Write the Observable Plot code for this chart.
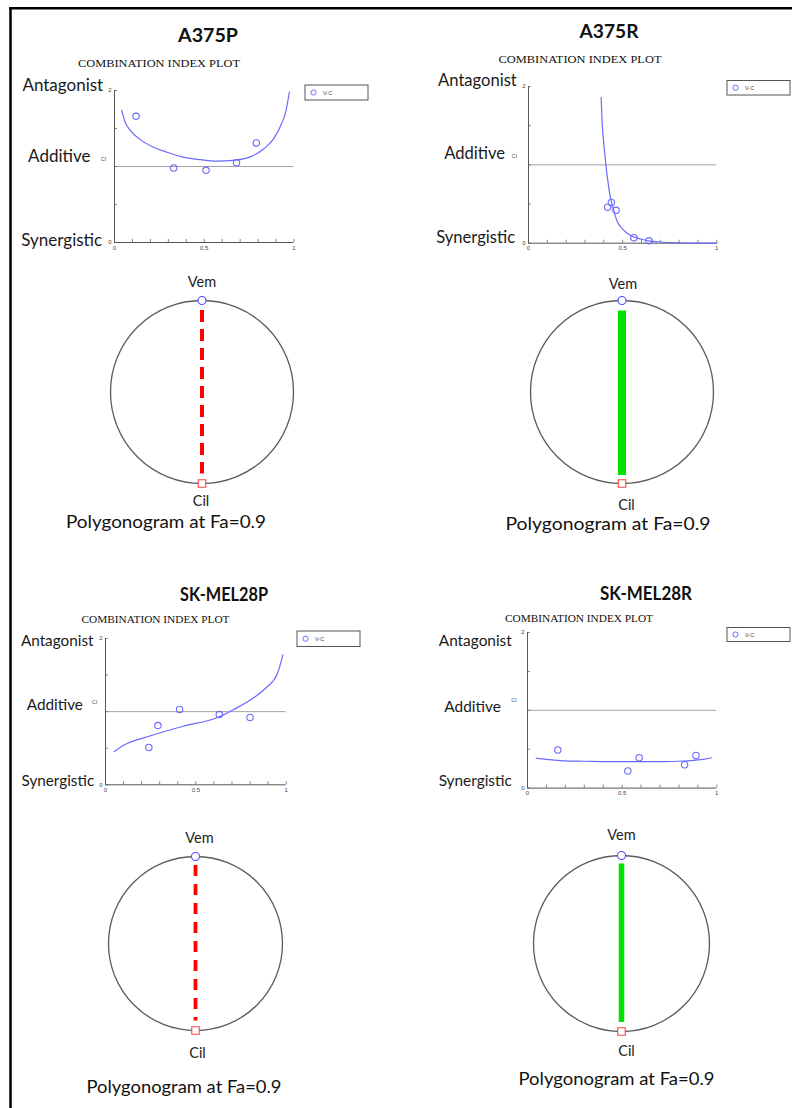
<!DOCTYPE html>
<html>
<head>
<meta charset="utf-8">
<script src="https://cdn.jsdelivr.net/npm/d3@7"></script>
<script src="https://cdn.jsdelivr.net/npm/@observablehq/plot@0.6"></script>
<style>
  html, body { margin: 0; padding: 0; background: #fff; }
  #page { position: relative; width: 792px; height: 1108px; overflow: hidden; background: #fff; }
  .panel { position: absolute; }
  #overlay { position: absolute; left: 0; top: 0; pointer-events: none; }
</style>
</head>
<body>
<div id="page"></div>
<script>
// ---------------- DATA ----------------
const cellLines = ["A375P", "A375R", "SK-MEL28P", "SK-MEL28R"];
const seriesName = "V-C";
const drugs = ["Vem", "Cil"];

// measured combination points (Fa, CI)
const faA375P = [0.12, 0.33, 0.51, 0.68, 0.79];
const ciA375P = [1.66, 0.98, 0.95, 1.05, 1.31];
const faA375R = [0.42, 0.44, 0.465, 0.56, 0.64];
const ciA375R = [0.46, 0.52, 0.42, 0.07, 0.03];
const faSKP = [0.24, 0.29, 0.41, 0.63, 0.80];
const ciSKP = [0.51, 0.81, 1.03, 0.96, 0.92];
const faSKR = [0.16, 0.53, 0.59, 0.83, 0.89];
const ciSKR = [0.49, 0.22, 0.39, 0.30, 0.42];

// simulated CI curves (Fa, CI)
const curveFaA375P = [0.04, 0.06, 0.09, 0.14, 0.22, 0.29, 0.39, 0.48, 0.57, 0.66, 0.76, 0.83, 0.885, 0.93, 0.956, 0.974];
const curveCiA375P = [1.74, 1.58, 1.47, 1.36, 1.25, 1.19, 1.12, 1.09, 1.07, 1.08, 1.13, 1.23, 1.36, 1.56, 1.74, 1.98];
const curveFaA375R = [0.386, 0.39, 0.395, 0.4, 0.407, 0.414, 0.42, 0.427, 0.433, 0.44, 0.45, 0.469, 0.5, 0.54, 0.6, 0.646, 0.7, 0.8, 0.9, 1.0];
const curveCiA375R = [1.86, 1.60, 1.40, 1.26, 1.10, 0.93, 0.82, 0.70, 0.61, 0.53, 0.44, 0.29, 0.18, 0.10, 0.05, 0.026, 0.015, 0.005, 0.002, 0.0];
const curveFaSKP = [0.048, 0.1, 0.25, 0.43, 0.62, 0.71, 0.82, 0.89, 0.95, 0.982];
const curveCiSKP = [0.455, 0.54, 0.67, 0.80, 0.92, 1.03, 1.19, 1.33, 1.51, 1.78];
const curveFaSKR = [0.046, 0.1, 0.19, 0.3, 0.45, 0.6, 0.72, 0.8, 0.89, 0.93, 0.973];
const curveCiSKR = [0.385, 0.37, 0.35, 0.345, 0.34, 0.34, 0.34, 0.345, 0.36, 0.37, 0.39];

// axis ticks
const xMinorTicks = [0, 0.1, 0.2, 0.3, 0.4, 0.5, 0.6, 0.7, 0.8, 0.9, 1];
const yMinorTicks = [0, 0.5, 1, 1.5, 2];
const xTickLabels = [0, 0.5, 1];
const yTickLabels = [0, 2];
const additiveCI = [1];
const effectLabels = ["Antagonist", "Additive", "Synergistic"];
const effectCI = [2, 1, 0];

// polygonogram interaction at Fa = 0.9 (Vem–Cil edge)
const polyInteraction = ["antagonism", "synergism", "antagonism", "synergism"];

// ---------------- LAYOUT / STYLE ----------------
const BLUE = "#6a6aff";
const ciLayouts = [
  {x0: 114, x1: 293.5, yTop: 90, yBot: 242, labelDx: [-11.3, -24, -12.3], labelDy: [-5.3, -9.5, -2.3], labelSize: 17, ciDx: -11, ciDy: -7},
  {x0: 527.7, x1: 716, yTop: 86, yBot: 242.7, labelDx: [-11.7, -23.4, -13.4], labelDy: [-5.7, -10.8, -5.7], labelSize: 16.6, ciDx: -14, ciDy: -9},
  {x0: 105.3, x1: 286, yTop: 637.7, yBot: 784, labelDx: [-12, -22.6, -11.3], labelDy: [2.6, -6.1, -3.5], labelSize: 15.3, ciDx: -11, ciDy: -9.6},
  {x0: 526.7, x1: 716, yTop: 631.7, yBot: 787.3, labelDx: [-15.7, -26.7, -15.7], labelDy: [8.8, -3, -6.8], labelSize: 15.4, ciDx: -13.4, ciDy: -10}
];
const polyLayouts = [
  {cx: 201, cy: 391.2, r: 91.5, vemDx: 0, vemDy: -18, cilDx: -1, cilDy: 17.5, lineWidth: 4, dash: "12,7", insetTop: 10, insetBottom: 9.5},
  {cx: 621.8, cy: 391.3, r: 91.5, vemDx: 1, vemDy: -15.8, cilDx: 4.5, cilDy: 22, lineWidth: 8, dash: null, insetTop: 10.5, insetBottom: 8},
  {cx: 194.5, cy: 943.3, r: 87, vemDx: 4, vemDy: -18, cilDx: 2, cilDy: 23, lineWidth: 3.8, dash: "11,8", insetTop: 9, insetBottom: 9.5},
  {cx: 621.2, cy: 942.8, r: 88, vemDx: 0, vemDy: -20, cilDx: 5, cilDy: 20, lineWidth: 5.5, dash: null, insetTop: 8.5, insetBottom: 9}
];

const page = document.getElementById("page");

function place(node, left, top, w, h) {
  const div = document.createElement("div");
  div.className = "panel";
  div.style.left = left + "px";
  div.style.top = top + "px";
  div.style.width = w + "px";
  div.style.height = h + "px";
  div.appendChild(node);
  page.appendChild(div);
}

function zip(xs, ys) { return xs.map((fa, i) => ({fa, ci: ys[i]})); }

function ciPlot(fa, ci, cFa, cCi, L) {
  const ml = 112, mr = 8, mt = 14, mb = 16;
  const w = L.x1 - L.x0, h = L.yBot - L.yTop;
  const marks = [
    Plot.ruleY(additiveCI, {stroke: "#a3a3a3", strokeWidth: 1}),
    Plot.ruleX(xMinorTicks, {stroke: "#666", strokeWidth: 0.8, insetTop: h - 3}),
    Plot.ruleY(yMinorTicks, {stroke: "#666", strokeWidth: 0.8, insetRight: w - 3}),
    Plot.ruleX([0], {stroke: "#555", strokeWidth: 1}),
    Plot.ruleY([0], {stroke: "#555", strokeWidth: 1}),
    Plot.axisX({ticks: xTickLabels, tickSize: 0, tickPadding: 3, fontSize: 6, label: null, fill: "#444", tickFormat: d => String(d)}),
    Plot.axisY({ticks: yTickLabels, tickSize: 0, tickPadding: 3, fontSize: 6, label: null, fill: "#444", tickFormat: d => String(d)}),
    Plot.text(["CI"], {x: 0, y: 1, dx: L.ciDx, dy: L.ciDy, fontSize: 5.5, fill: "#555"}),
    Plot.line(zip(cFa, cCi), {x: "fa", y: "ci", stroke: BLUE, strokeWidth: 1.2, curve: "monotone-x"}),
    Plot.dot(zip(fa, ci), {x: "fa", y: "ci", r: 3.2, stroke: BLUE, strokeWidth: 1.1, fill: "none"})
  ];
  effectLabels.forEach((lab, i) => {
    marks.push(Plot.text([lab], {x: 0, y: effectCI[i], text: d => d, textAnchor: "end",
      dx: L.labelDx[i], dy: L.labelDy[i], fontSize: L.labelSize, fontFamily: "Lato, sans-serif", fill: "#1a1a1a"}));
  });
  const chart = Plot.plot({
    width: w + ml + mr, height: h + mt + mb,
    marginLeft: ml, marginRight: mr, marginTop: mt, marginBottom: mb,
    x: {domain: [0, 1]}, y: {domain: [0, 2]},
    style: {background: "transparent", fontFamily: "Arial, sans-serif", overflow: "visible", maxWidth: "none"},
    marks
  });
  place(chart, L.x0 - ml, L.yTop - mt, w + ml + mr, h + mt + mb);
}

function polyPlot(interaction, L) {
  const m = 34, r = L.r;
  // vertex positions on the unit circle (geometry of the polygonogram)
  const verts = drugs.map((drug, i) => {
    const a = Math.PI / 2 + i * 2 * Math.PI / drugs.length;
    return {drug, x: Math.round(Math.cos(a) * 1e6) / 1e6, y: Math.round(Math.sin(a) * 1e6) / 1e6};
  });
  const edges = [{from: verts[0], to: verts[1], interaction}];
  const isAnt = interaction === "antagonism";
  const size = 2 * r + 2 * m;
  const chart = Plot.plot({
    width: size, height: size, margin: m,
    x: {domain: [-1, 1], axis: null}, y: {domain: [-1, 1], axis: null},
    style: {background: "transparent", fontFamily: "Lato, sans-serif", overflow: "visible", maxWidth: "none"},
    marks: [
      Plot.dot([{x: 0, y: 0}], {x: "x", y: "y", r: r, stroke: "#5c5c5c", strokeWidth: 1.3, fill: "none"}),
      Plot.ruleX(edges, {x: d => d.from.x, y1: d => d.from.y, y2: d => d.to.y,
        stroke: isAnt ? "#ff0000" : "#00e400", strokeWidth: L.lineWidth,
        strokeDasharray: L.dash, insetTop: L.insetTop, insetBottom: L.insetBottom}),
      Plot.dot(verts, {filter: d => d.drug === "Vem", x: "x", y: "y", r: 4, stroke: "#4b4bff", strokeWidth: 1.1, fill: "white"}),
      Plot.dot(verts, {filter: d => d.drug === "Cil", x: "x", y: "y", r: 4.2, symbol: "square", stroke: "#ff4545", strokeWidth: 1.1, fill: "white"}),
      Plot.text(verts, {filter: d => d.drug === "Vem", x: "x", y: "y", text: "drug", dx: L.vemDx, dy: L.vemDy, fontSize: 14.5, fill: "#222"}),
      Plot.text(verts, {filter: d => d.drug === "Cil", x: "x", y: "y", text: "drug", dx: L.cilDx, dy: L.cilDy, fontSize: 14.5, fill: "#222"})
    ]
  });
  place(chart, L.cx - r - m, L.cy - r - m, size, size);
}

ciPlot(faA375P, ciA375P, curveFaA375P, curveCiA375P, ciLayouts[0]);
ciPlot(faA375R, ciA375R, curveFaA375R, curveCiA375R, ciLayouts[1]);
ciPlot(faSKP, ciSKP, curveFaSKP, curveCiSKP, ciLayouts[2]);
ciPlot(faSKR, ciSKR, curveFaSKR, curveCiSKR, ciLayouts[3]);
polyInteraction.forEach((t, i) => polyPlot(t, polyLayouts[i]));

// ---------------- OVERLAY TEXT / LEGENDS / BORDER ----------------
const svg = d3.select(page).append("svg").attr("id", "overlay").attr("width", 792).attr("height", 1108);

function addText(t, x, y, size, family, weight, len) {
  svg.append("text").attr("x", x).attr("y", y).attr("text-anchor", "middle")
    .attr("font-size", size).attr("font-family", family).attr("font-weight", weight)
    .attr("fill", "#111").attr("textLength", len).attr("lengthAdjust", "spacingAndGlyphs").text(t);
}

const titlePos = [[208, 41.7, 60], [609, 38.3, 59], [224, 600.7, 88], [646, 600, 92]];
const subPos = [[159, 67.3, 162, 11], [580, 63.3, 163, 11], [155.5, 623.3, 148, 10], [579, 621.7, 148, 10]];
const capPos = [[166, 528, 200], [608, 530, 205], [184, 1093, 195], [616.5, 1085, 196]];
const legendPos = [[305, 85, 15], [727, 80.5, 14.5], [297, 631, 15.5], [727, 627.5, 14]];

cellLines.forEach((name, i) => {
  addText(name, titlePos[i][0], titlePos[i][1], 18.5, "Lato, sans-serif", 700, titlePos[i][2]);
  addText("COMBINATION INDEX PLOT", subPos[i][0], subPos[i][1], subPos[i][3], "'Liberation Serif', 'Times New Roman', serif", 400, subPos[i][2]);
  addText("Polygonogram at Fa=0.9", capPos[i][0], capPos[i][1], 18, "Lato, sans-serif", 400, capPos[i][2]);
  const [lx, ly, lh] = legendPos[i];
  svg.append("rect").attr("x", lx).attr("y", ly).attr("width", 63).attr("height", lh)
    .attr("fill", "white").attr("stroke", "#555").attr("stroke-width", 1);
  svg.append("circle").attr("cx", lx + 8.5).attr("cy", ly + lh / 2).attr("r", 2.6)
    .attr("fill", "none").attr("stroke", BLUE).attr("stroke-width", 1);
  svg.append("text").attr("x", lx + 18).attr("y", ly + lh / 2 + 2).attr("font-size", 5.5)
    .attr("font-family", "Arial, sans-serif").attr("fill", "#444").text(seriesName);
});

// outer frame (left and top edges visible)
svg.append("line").attr("x1", 10.5).attr("x2", 10.5).attr("y1", 7).attr("y2", 1108).attr("stroke", "#000").attr("stroke-width", 2.5);
svg.append("line").attr("x1", 9).attr("x2", 792).attr("y1", 8.3).attr("y2", 8.3).attr("stroke", "#000").attr("stroke-width", 2.5);
</script>
</body>
</html>
